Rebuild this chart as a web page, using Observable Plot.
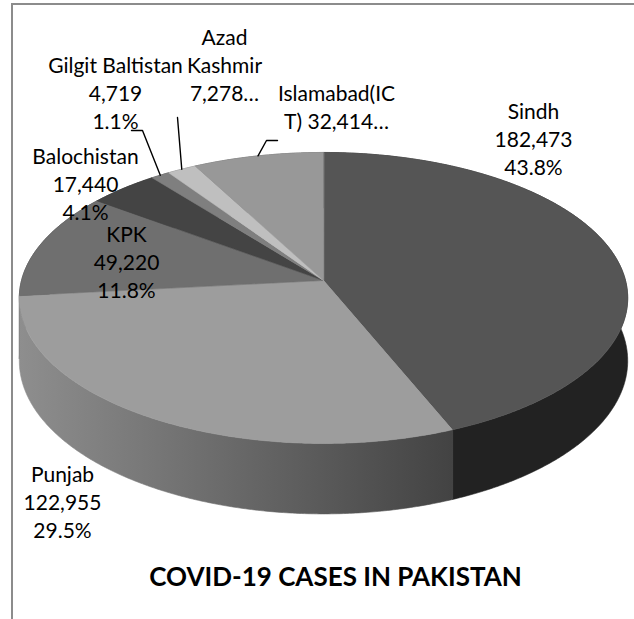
<!DOCTYPE html>
<html><head><meta charset="utf-8">
<script src="https://cdn.jsdelivr.net/npm/d3@7"></script>
<script src="https://cdn.jsdelivr.net/npm/@observablehq/plot@0.6"></script>
<style>
html,body{margin:0;padding:0;background:#fff;}
#frame{position:absolute;left:11px;top:3px;width:700px;height:700px;border-top:2px solid #8c8c8c;border-left:2px solid #8c8c8c;box-sizing:border-box;}
#chart{position:absolute;left:0;top:0;}
</style></head><body>
<div id="frame"></div><div id="chart"></div>
<script>
// ---- data ----
const provinces = ["Sindh", "Punjab", "KPK", "Balochistan", "Gilgit Baltistan", "Azad Kashmir", "Islamabad(ICT)"];
const cases = [182473, 122955, 49220, 17440, 4719, 7278, 32414];
const labelLines = [
  ["Sindh", "182,473", "43.8%"],
  ["Punjab", "122,955", "29.5%"],
  ["KPK", "49,220", "11.8%"],
  ["Balochistan", "17,440", "4.1%"],
  ["Gilgit Baltistan", "4,719", "1.1%"],
  ["Azad", "Kashmir", "7,278…"],
  ["Islamabad(IC", "T) 32,414…"]
];
const topColors = ["#555555", "#9d9d9d", "#6f6f6f", "#444444", "#7f7f7f", "#bfbfbf", "#989898"];
const sideColors = ["#222222", "url(#punjabSide)", "#3a3a3a", "#262626", "#444444", "#666666", "#555555"];
const titleText = "COVID-19 CASES IN PAKISTAN";

// ---- layout (pie projection and label placement) ----
const W = 634, H = 619;
const pie = {cx: 323, cy: 280, rx: 302, ry: 143.4, persp: 0.12, depth: 62};
const labelOffset = [[210, -140], [-261, 223], [-197, -17], [-238, -95], [-208, -186], [-99, -214], [13, -172]];
const leaderStarts = {4: [[-192, -150], [-181, -150]], 5: [[-146, -163]], 6: [[-46, -140], [-57, -140]]};
const lineGap = 28;

function proj(t, h) {
  const u = Math.sin(t), v = -Math.cos(t), w = 1 / (1 - pie.persp * v);
  return {x: pie.cx + pie.rx * u * w, y: pie.cy + (pie.ry * v + pie.depth * h) * w, v};
}
function arcPts(a0, a1, h) {
  const n = Math.max(2, Math.ceil((a1 - a0) / (Math.PI / 360)));
  return d3.range(n + 1).map(k => proj(a0 + (a1 - a0) * k / n, h));
}

const arcs = d3.pie().sort(null).value(d => d)(cases);

const topRows = [], sideGroups = [];
arcs.forEach((a, i) => {
  const pts = [{x: pie.cx, y: pie.cy}, ...arcPts(a.startAngle, a.endAngle, 0)];
  pts.forEach(p => topRows.push({id: i, x: p.x, y: p.y, fill: topColors[i]}));
  const up = arcPts(a.startAngle, a.endAngle, 0);
  const dn = arcPts(a.startAngle, a.endAngle, 1).reverse();
  sideGroups.push({i, key: d3.max(up, p => p.v), pts: [...up, ...dn]});
});
sideGroups.sort((a, b) => a.key - b.key);
const sideRows = [];
sideGroups.forEach(g => g.pts.forEach(p => sideRows.push({id: g.i, x: p.x, y: p.y, fill: sideColors[g.i]})));

const leaderRows = [];
Object.entries(leaderStarts).forEach(([k, starts]) => {
  const a = arcs[+k];
  const end = proj((a.startAngle + a.endAngle) / 2, 0);
  starts.forEach(s => leaderRows.push({id: k, x: pie.cx + s[0], y: pie.cy + s[1]}));
  leaderRows.push({id: k, x: end.x, y: end.y});
});

const textRows = [];
labelLines.forEach((lines, i) => {
  const [dx, dy] = labelOffset[i];
  lines.forEach((t, j) => textRows.push({
    t, x: pie.cx + dx, y: pie.cy + dy + (j - (lines.length - 1) / 2) * lineGap
  }));
});

const svg = Plot.plot({
  width: W, height: H, margin: 0,
  x: {domain: [0, W], range: [0, W], axis: null},
  y: {domain: [0, H], range: [0, H], axis: null},
  color: {type: "identity"},
  style: {background: "transparent", fontFamily: "Lato", overflow: "visible"},
  marks: [
    Plot.line(sideRows, {x: "x", y: "y", z: "id", fill: "fill", stroke: "fill", strokeWidth: 0.6, curve: "linear-closed"}),
    Plot.line(topRows, {x: "x", y: "y", z: "id", fill: "fill", stroke: "fill", strokeWidth: 0.6, curve: "linear-closed"}),
    Plot.line(leaderRows, {x: "x", y: "y", z: "id", stroke: "#000", strokeWidth: 1.4}),
    Plot.text(textRows, {x: "x", y: "y", text: "t", fontSize: 21, fontFamily: "Lato", fill: "#000", textAnchor: "middle", lineAnchor: "middle"}),
    Plot.text([titleText], {frameAnchor: "bottom", dx: 18, dy: -42, fontSize: 26, fontWeight: "bold", fontFamily: "Lato", fill: "#000", lineAnchor: "middle"})
  ]
});

const ns = "http://www.w3.org/2000/svg";
const defs = document.createElementNS(ns, "defs");
const grad = document.createElementNS(ns, "linearGradient");
grad.setAttribute("id", "punjabSide");
grad.setAttribute("x1", "0"); grad.setAttribute("x2", "1");
grad.setAttribute("y1", "0"); grad.setAttribute("y2", "0");
[["0", "#8e8e8e"], ["1", "#434343"]].forEach(([o, c]) => {
  const s = document.createElementNS(ns, "stop");
  s.setAttribute("offset", o); s.setAttribute("stop-color", c);
  grad.appendChild(s);
});
defs.appendChild(grad);
svg.insertBefore(defs, svg.firstChild);
document.getElementById("chart").appendChild(svg);
</script>
</body></html>
